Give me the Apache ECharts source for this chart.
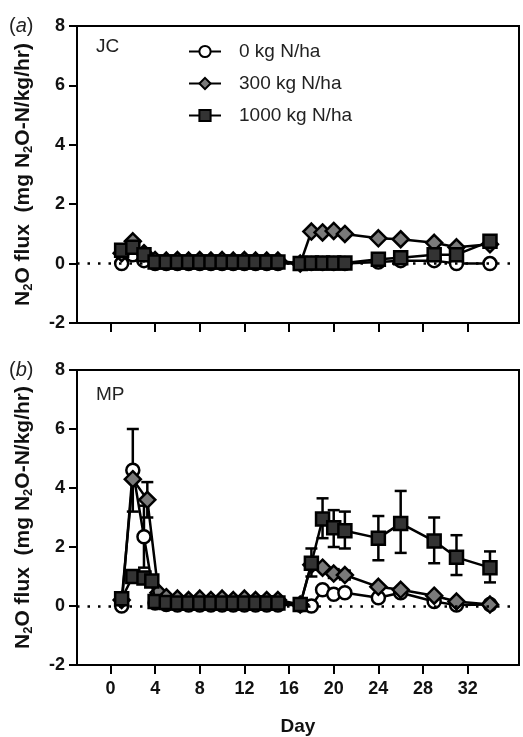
<!DOCTYPE html>
<html lang="en">
<head>
	<meta charset="UTF-8">
	<title>N2O flux</title>
	<style>
		html,body{background:#fff;height:100%;overflow:hidden;margin:0;padding:0;}
		#main{width:523px;height:737px;}
	</style>
</head>
<body>
	<div id="main"></div>
	<script src="https://cdn.jsdelivr.net/npm/echarts@6/dist/echarts.min.js"></script>
	<script>
		// sampling days (shared by most series)
		var days = [1,2,3,4,5,6,7,8,9,10,11,12,13,14,15,17,18,19,20,21,24,26,29,31,34];
		var dayTicks = [0,4,8,12,16,20,24,28,32];

		// (a) JC
		var jcFlux0    = [0,0.3,0.1,0,0,0,0,0,0,0,0,0,0,0,0,0,0,0,0,0,0.05,0.1,0.1,0,0];
		var jcFlux300  = [0.35,0.75,0.35,0.12,0.1,0.12,0.1,0.12,0.1,0.12,0.1,0.12,0.1,0.1,0.1,0,1.08,1.05,1.1,1.0,0.85,0.82,0.7,0.55,0.65];
		var jcFlux1000 = [0.45,0.55,0.3,0.05,0.05,0.05,0.05,0.05,0.05,0.05,0.05,0.05,0.05,0.05,0.05,0,0.02,0.02,0.02,0.02,0.15,0.2,0.3,0.3,0.75];

		// (b) MP
		var mpDays0    = days;
		var mpFlux0    = [0,4.6,2.35,0.1,0.05,0.03,0.03,0.03,0.03,0.03,0.03,0.03,0.03,0.03,0.03,0.03,0,0.55,0.4,0.45,0.28,0.45,0.15,0.03,0.05];
		var mpDays300  = [1,2,3.3,4.3,5,6,7,8,9,10,11,12,13,14,15,17,18,19,20,21,24,26,29,31,34];
		var mpFlux300  = [0.2,4.3,3.6,0.45,0.3,0.25,0.2,0.25,0.2,0.25,0.2,0.25,0.2,0.2,0.2,0.05,1.4,1.3,1.1,1.05,0.65,0.55,0.35,0.15,0.05];
		var mpDays1000 = [1,2,3,3.7,4,5,6,7,8,9,10,11,12,13,14,15,17,18,19,20,21,24,26,29,31,34];
		var mpFlux1000 = [0.25,1.0,0.95,0.85,0.15,0.12,0.1,0.1,0.1,0.1,0.1,0.1,0.1,0.1,0.1,0.1,0.05,1.45,2.95,2.65,2.55,2.3,2.8,2.2,1.65,1.3];

		// error bars in (b)
		var mpErrDays = [2,3,3.3,18,19,20,21,24,26,29,31,34,20,21];
		var mpErrLow  = [3.2,1.3,3.0,1.0,2.3,2.0,1.95,1.55,1.8,1.45,1.05,0.8,0.95,0.9];
		var mpErrHigh = [6.0,3.4,4.2,1.95,3.65,3.25,3.2,3.05,3.9,3.0,2.4,1.85,1.25,1.2];

		var names = ['0 kg N/ha','300 kg N/ha','1000 kg N/ha'];

		function pairs(x, y){
			var out = [];
			for(var i = 0; i < y.length; i++) out.push([x[i], y[i]]);
			return out;
		}
		var errData = [];
		for(var i = 0; i < mpErrDays.length; i++) errData.push([mpErrDays[i], mpErrLow[i], mpErrHigh[i]]);

		var font = '"Liberation Sans", Arial, sans-serif';
		var marks = [
			{symbol:'circle', size:13, fill:'#fff'},
			{symbol:'diamond', size:16, fill:'#7a7a7a'},
			{symbol:'rect', size:13, fill:'#333'}
		];

		function lineSeries(k, idx, data, zero){
			var s = {
				name: names[k], type:'line', xAxisIndex:idx, yAxisIndex:idx,
				data: data, symbol: marks[k].symbol, symbolSize: marks[k].size,
				lineStyle:{color:'#000', width:2.5},
				itemStyle:{color:marks[k].fill, borderColor:'#000', borderWidth:2.5},
				z: 3 + k
			};
			if(zero){
				s.markLine = {
					silent:true, symbol:'none', label:{show:false},
					lineStyle:{color:'#000', type:[2.5,8], width:2.5},
					data:[{yAxis:0}]
				};
			}
			return s;
		}

		function xAxis(idx, labels){
			return {
				type:'value', gridIndex:idx, min:-3, max:36.6,
				splitLine:{show:false},
				axisLine:{onZero:false, lineStyle:{color:'#000', width:2}},
				axisTick:{show:true, length:9, customValues:dayTicks, lineStyle:{color:'#000', width:2}},
				axisLabel:{show:labels, customValues:dayTicks, margin:15, color:'#111', fontSize:18, fontWeight:'bold', fontFamily:font},
				name: labels ? 'Day' : '', nameLocation:'middle', nameGap:52,
				nameTextStyle:{color:'#111', fontSize:19, fontWeight:'bold', fontFamily:font}
			};
		}
		function yAxis(idx){
			return {
				type:'value', gridIndex:idx, min:-2, max:8, interval:2,
				splitLine:{show:false},
				axisLine:{show:true, onZero:false, lineStyle:{color:'#000', width:2}},
				axisTick:{show:true, length:8, lineStyle:{color:'#000', width:2}},
				axisLabel:{margin:12, color:'#111', fontSize:18, fontWeight:'bold', fontFamily:font},
				name:'{b|N}{s|2}{b|O flux  (mg N}{s|2}{b|O-N/kg/hr)}',
				nameLocation:'middle', nameGap:42,
				nameTextStyle:{
					rich:{
						b:{fontSize:21, fontWeight:'bold', color:'#111', fontFamily:font},
						s:{fontSize:13, fontWeight:'bold', color:'#111', fontFamily:font, padding:[10,0,0,0]}
					}
				}
			};
		}

		var chart = echarts.init(document.getElementById('main'));
		chart.setOption({
			animation:false,
			backgroundColor:'#fff',
			grid:[
				{left:77, top:26, width:442, height:297, show:true, borderColor:'#000', borderWidth:2},
				{left:77, top:370, width:442, height:295, show:true, borderColor:'#000', borderWidth:2}
			],
			xAxis:[xAxis(0,false), xAxis(1,true)],
			yAxis:[yAxis(0), yAxis(1)],
			legend:{
				data:names, orient:'vertical', left:183, top:37,
				itemWidth:32, itemHeight:14, itemGap:13,
				textStyle:{color:'#222', fontSize:19, fontFamily:font, padding:[0,0,0,13]}
			},
			graphic:[
				{type:'text', left:9, top:16, style:{text:'({i|a})', fill:'#222', font:'20px ' + font, rich:{i:{fontStyle:'italic', fontSize:20, fill:'#222', fontFamily:font}}}},
				{type:'text', left:96, top:37, style:{text:'JC', fill:'#222', font:'19px ' + font}},
				{type:'text', left:9, top:360, style:{text:'({i|b})', fill:'#222', font:'20px ' + font, rich:{i:{fontStyle:'italic', fontSize:20, fill:'#222', fontFamily:font}}}},
				{type:'text', left:96, top:385, style:{text:'MP', fill:'#222', font:'19px ' + font}}
			],
			series:[
				lineSeries(0, 0, pairs(days, jcFlux0), true),
				lineSeries(1, 0, pairs(days, jcFlux300), false),
				lineSeries(2, 0, pairs(days, jcFlux1000), false),
				{
					type:'custom', xAxisIndex:1, yAxisIndex:1, z:2, silent:true,
					data:errData, encode:{x:0, y:[1,2]},
					renderItem:function(params, api){
						var x = api.value(0);
						var lo = api.coord([x, api.value(1)]);
						var hi = api.coord([x, api.value(2)]);
						var w = 6, st = {stroke:'#000', lineWidth:2.5};
						return {type:'group', children:[
							{type:'line', shape:{x1:lo[0], y1:lo[1], x2:hi[0], y2:hi[1]}, style:st},
							{type:'line', shape:{x1:lo[0]-w, y1:lo[1], x2:lo[0]+w, y2:lo[1]}, style:st},
							{type:'line', shape:{x1:hi[0]-w, y1:hi[1], x2:hi[0]+w, y2:hi[1]}, style:st}
						]};
					}
				},
				lineSeries(0, 1, pairs(mpDays0, mpFlux0), true),
				lineSeries(1, 1, pairs(mpDays300, mpFlux300), false),
				lineSeries(2, 1, pairs(mpDays1000, mpFlux1000), false)
			]
		});
	</script>
</body>
</html>
